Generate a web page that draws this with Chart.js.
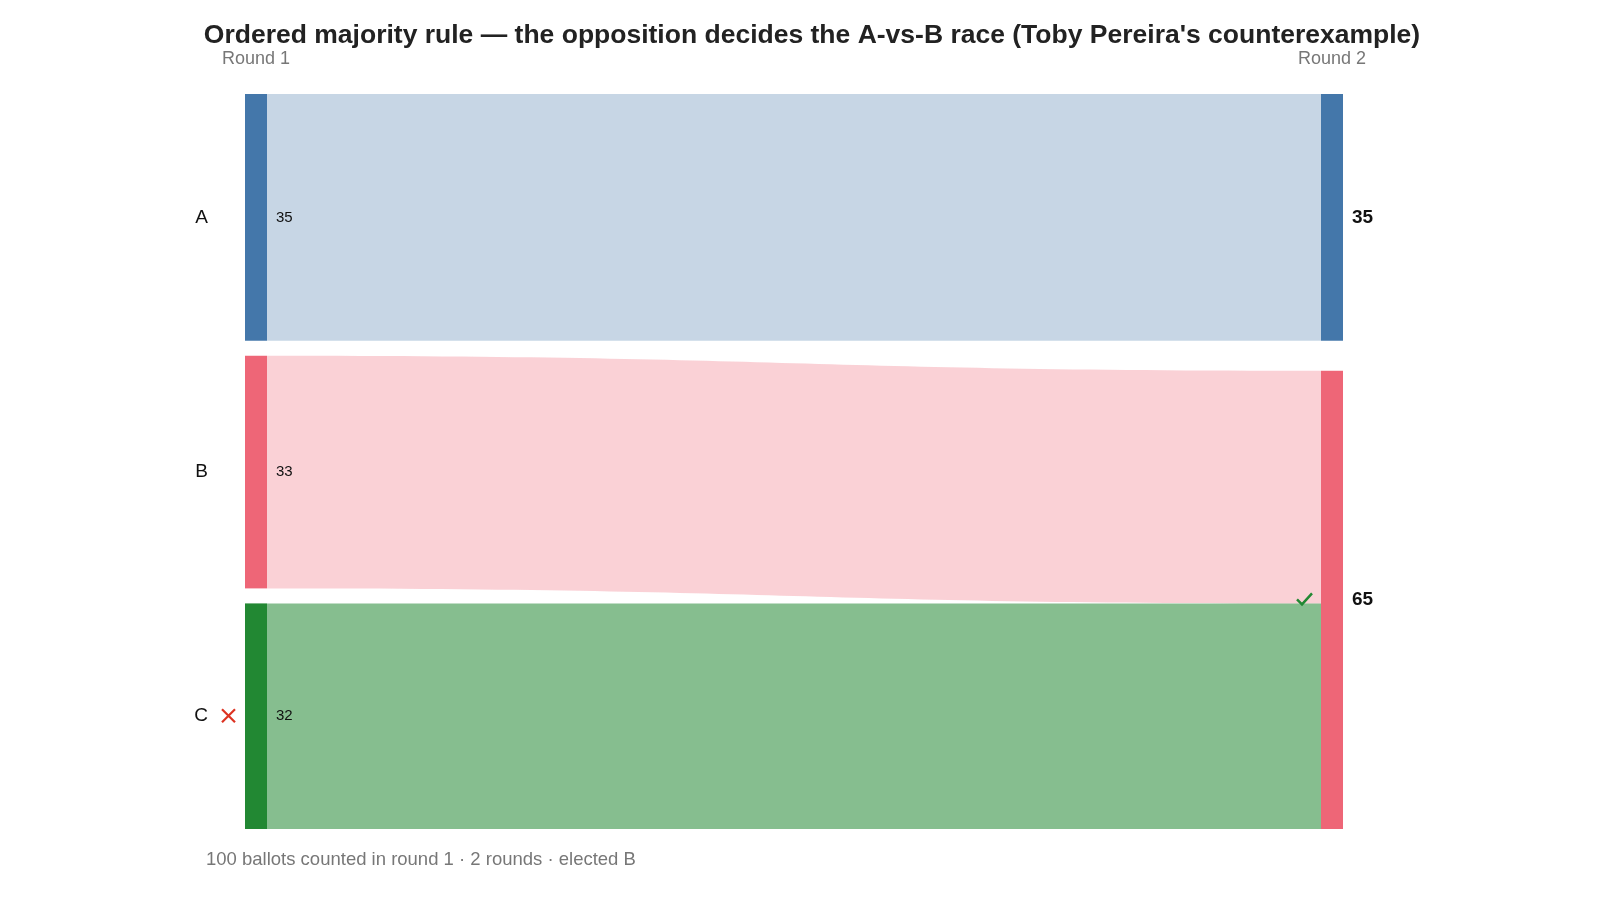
<!DOCTYPE html>
<html><head><meta charset="utf-8">
<script src="https://cdn.jsdelivr.net/npm/chart.js@4"></script>
<style>html,body{margin:0;background:#fff}#w{width:1600px;height:900px}</style>
</head><body><div id="w"><canvas id="c"></canvas></div>
<script>
const candidates = ['A','B','C'];
const round1 = [35,33,32];
const round2Nodes = ['A','B'];
const round2 = [35,65];
const flows = [['A','A',35],['B','B',33],['C','B',32]];
const roundLabels = ['Round 1','Round 2'];
const colors = {A:'#4477AA',B:'#EE6677',C:'#228833'};
const flowColors = {A:'rgba(68,119,170,0.30)',B:'rgba(238,102,119,0.30)',C:'rgba(34,136,51,0.55)'};
const GAP = 2.13;
const total = round1.reduce((a,b)=>a+b,0);

function stack(names, vals){const o={};let y=0;names.forEach((n,i)=>{o[n]={y0:y,y1:y+vals[i]};y+=vals[i]+GAP;});return o;}
const L = stack(candidates, round1);
const R = {A:{y0:0,y1:35}, B:{y0:35+2*GAP,y1:100+2*GAP}};

const sankey = {id:'sankey', afterDatasetsDraw(ch){
  const c=ch.ctx, xs=ch.scales.x, ys=ch.scales.y;
  const nw=22;
  const xl=xs.getPixelForValue(0), xr=xs.getPixelForValue(1);
  const lo={}, ro={};
  candidates.forEach(n=>lo[n]=L[n].y0); round2Nodes.forEach(n=>ro[n]=R[n].y0);
  flows.forEach(([s,t,v])=>{
    const a0=ys.getPixelForValue(lo[s]), a1=ys.getPixelForValue(lo[s]+v);
    const b0=ys.getPixelForValue(ro[t]), b1=ys.getPixelForValue(ro[t]+v);
    lo[s]+=v; ro[t]+=v;
    const x0=xl+nw, x1=xr-nw, m=(x0+x1)/2;
    c.beginPath(); c.moveTo(x0,a0); c.bezierCurveTo(m,a0,m,b0,x1,b0);
    c.lineTo(x1,b1); c.bezierCurveTo(m,b1,m,a1,x0,a1); c.closePath();
    c.fillStyle=flowColors[s]; c.fill();
  });
  c.textBaseline='middle';
  candidates.forEach((n,i)=>{
    const t=ys.getPixelForValue(L[n].y0), b=ys.getPixelForValue(L[n].y1);
    c.fillStyle=colors[n]; c.fillRect(xl,t,nw,b-t);
    c.fillStyle='#111'; c.font='15px Arial, "Liberation Sans"'; c.textAlign='left';
    c.fillText(String(round1[i]), xl+31, (t+b)/2);
    c.font='19px Arial, "Liberation Sans"'; c.textAlign='right';
    c.fillText(n, xl-37, (t+b)/2);
  });
  round2Nodes.forEach((n,i)=>{
    const t=ys.getPixelForValue(R[n].y0), b=ys.getPixelForValue(R[n].y1);
    c.fillStyle=colors[n]; c.fillRect(xr-nw,t,nw,b-t);
    c.fillStyle='#111'; c.font='bold 19px Arial, "Liberation Sans"'; c.textAlign='left';
    c.fillText(String(round2[i]), xr+9, (t+b)/2);
  });
  const cy=ys.getPixelForValue((L.C.y0+L.C.y1)/2);
  c.strokeStyle='#DD3322'; c.lineWidth=2.2;
  c.beginPath(); c.moveTo(222,cy-7); c.lineTo(235,cy+6); c.moveTo(235,cy-7); c.lineTo(222,cy+6); c.stroke();
  const ky=ys.getPixelForValue(R.B.y0+33)-4;
  c.strokeStyle='#228833'; c.lineWidth=2.5;
  c.beginPath(); c.moveTo(1297,ky); c.lineTo(1302,ky+5); c.lineTo(1312,ky-6); c.stroke();
  c.textBaseline='alphabetic';
  c.fillStyle='#222'; c.font='bold 26.5px Arial, "Liberation Sans"'; c.textAlign='center';
  c.fillText("Ordered majority rule \u2014 the opposition decides the A-vs-B race (Toby Pereira's counterexample)", 812, 43);
  c.fillStyle='#777'; c.font='18px Arial, "Liberation Sans"';
  c.fillText(roundLabels[0], xl+11, 64); c.fillText(roundLabels[1], xr-11, 64);
  c.textAlign='left'; c.font='18.5px Arial, "Liberation Sans"';
  c.fillText(total+' ballots counted in round 1 \u00b7 2 rounds \u00b7 elected B', 206, 865);
}};

new Chart(document.getElementById('c'), {
  type:'scatter',
  data:{datasets:[{data:[]}]},
  options:{responsive:true, maintainAspectRatio:false, animation:false,
    layout:{padding:{left:245,right:257,top:94,bottom:71}},
    plugins:{legend:{display:false},tooltip:{enabled:false},title:{display:false}},
    scales:{
      x:{type:'linear',min:0,max:1,display:false},
      y:{type:'linear',min:0,max:total+2*GAP,reverse:true,display:false}
    }},
  plugins:[sankey]
});
</script></body></html>
